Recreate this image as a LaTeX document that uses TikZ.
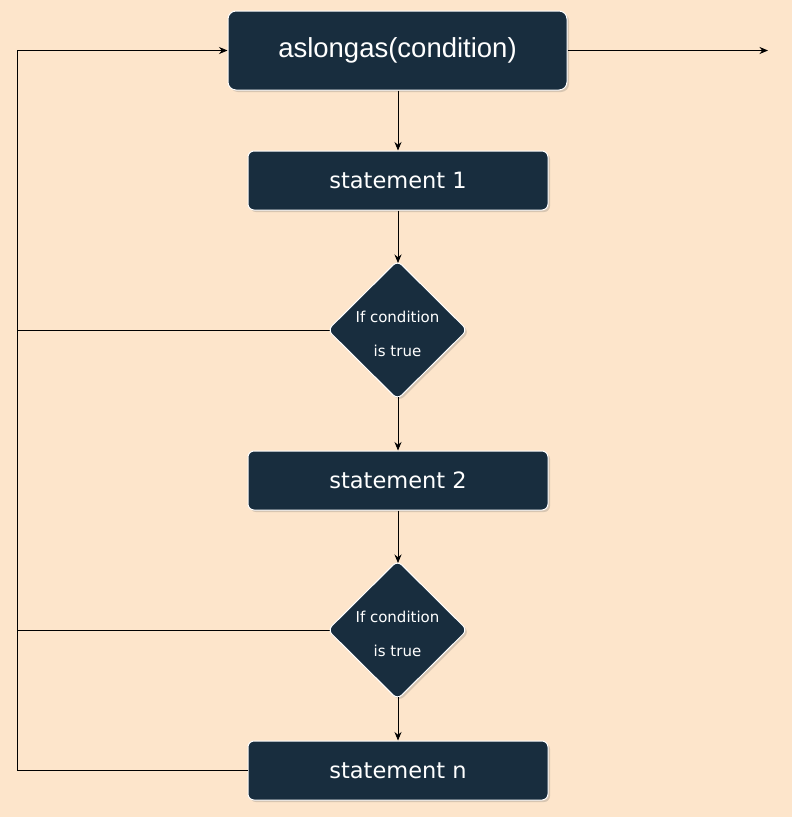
\documentclass[tikz,border=0pt]{standalone}
\usepackage{fontspec}
\setmainfont{Liberation Sans}
\newfontfamily\dejavu{DejaVu Sans}
\usetikzlibrary{shapes.geometric,arrows.meta,shadows}
\definecolor{bgpeach}{RGB}{253,229,203}
\definecolor{navy}{RGB}{24,45,62}
\tikzset{
  boxbase/.style={draw=white, line width=1pt, fill=navy, text=white, inner sep=0pt,
    drop shadow={shadow xshift=2pt, shadow yshift=-2pt, opacity=0.25, fill=black!60}},
  topbox/.style={boxbase, rounded corners=8pt, minimum width=339pt, minimum height=79pt,
    font=\fontsize{27.5}{30}\selectfont},
  stmtbox/.style={boxbase, rounded corners=6pt, minimum width=300pt, minimum height=59pt,
    font=\dejavu\fontsize{22.5}{26}\selectfont},
  decbox/.style={boxbase, shape=diamond, rounded corners=6pt, minimum width=140pt, minimum height=139pt},
  dectext/.style={text=white, inner sep=0pt, align=center, font=\dejavu\fontsize{15}{34}\selectfont},
  conn/.style={draw=black, line width=0.8pt},
  arr/.style={conn, -{Stealth[length=8.5pt,width=7pt]}}
}
\begin{document}
\begin{tikzpicture}[x=1pt,y=-1pt]
\fill[bgpeach] (0,0) rectangle (792,817);
\useasboundingbox (0,0) rectangle (792,817);
\coordinate (exit) at (768,50.5);
\coordinate (lt) at (17,50.5);
\coordinate (lb) at (17,770.5);
\coordinate (l1) at (17,330);
\coordinate (l2) at (17,630);
% connectors behind nodes
\draw[conn] (330,330) -- (l1);
\draw[conn] (330,630) -- (l2);
\node[topbox] (loop) at (397.5,50.5) {aslongas(condition)};
\node[stmtbox] (s1) at (398,180.5) {statement 1};
\node[decbox] (d1) at (397.5,330) {};
\node[dectext] (d1t) at (397.5,334) {If condition\\is true};
\node[stmtbox] (s2) at (398,480.5) {statement 2};
\node[decbox] (d2) at (397.5,630) {};
\node[dectext] (d2t) at (397.5,634) {If condition\\is true};
\node[stmtbox] (sn) at (398,770.5) {statement n};
\draw[arr] (loop.south -| s1.north) -- (s1.north);
\draw[arr] (s1.south) -- ([yshift=-3pt]s1.south |- d1.north);
\draw[arr] ([yshift=3pt]s1.south |- d1.south) -- (s2.north);
\draw[arr] (s2.south) -- ([yshift=-3pt]s2.south |- d2.north);
\draw[arr] ([yshift=3pt]s2.south |- d2.south) -- (sn.north);
\draw[arr] (loop.east) -- (exit);
\draw[arr] (sn.west) -- (lb) -- (lt) -- (loop.west);
\end{tikzpicture}
\end{document}
